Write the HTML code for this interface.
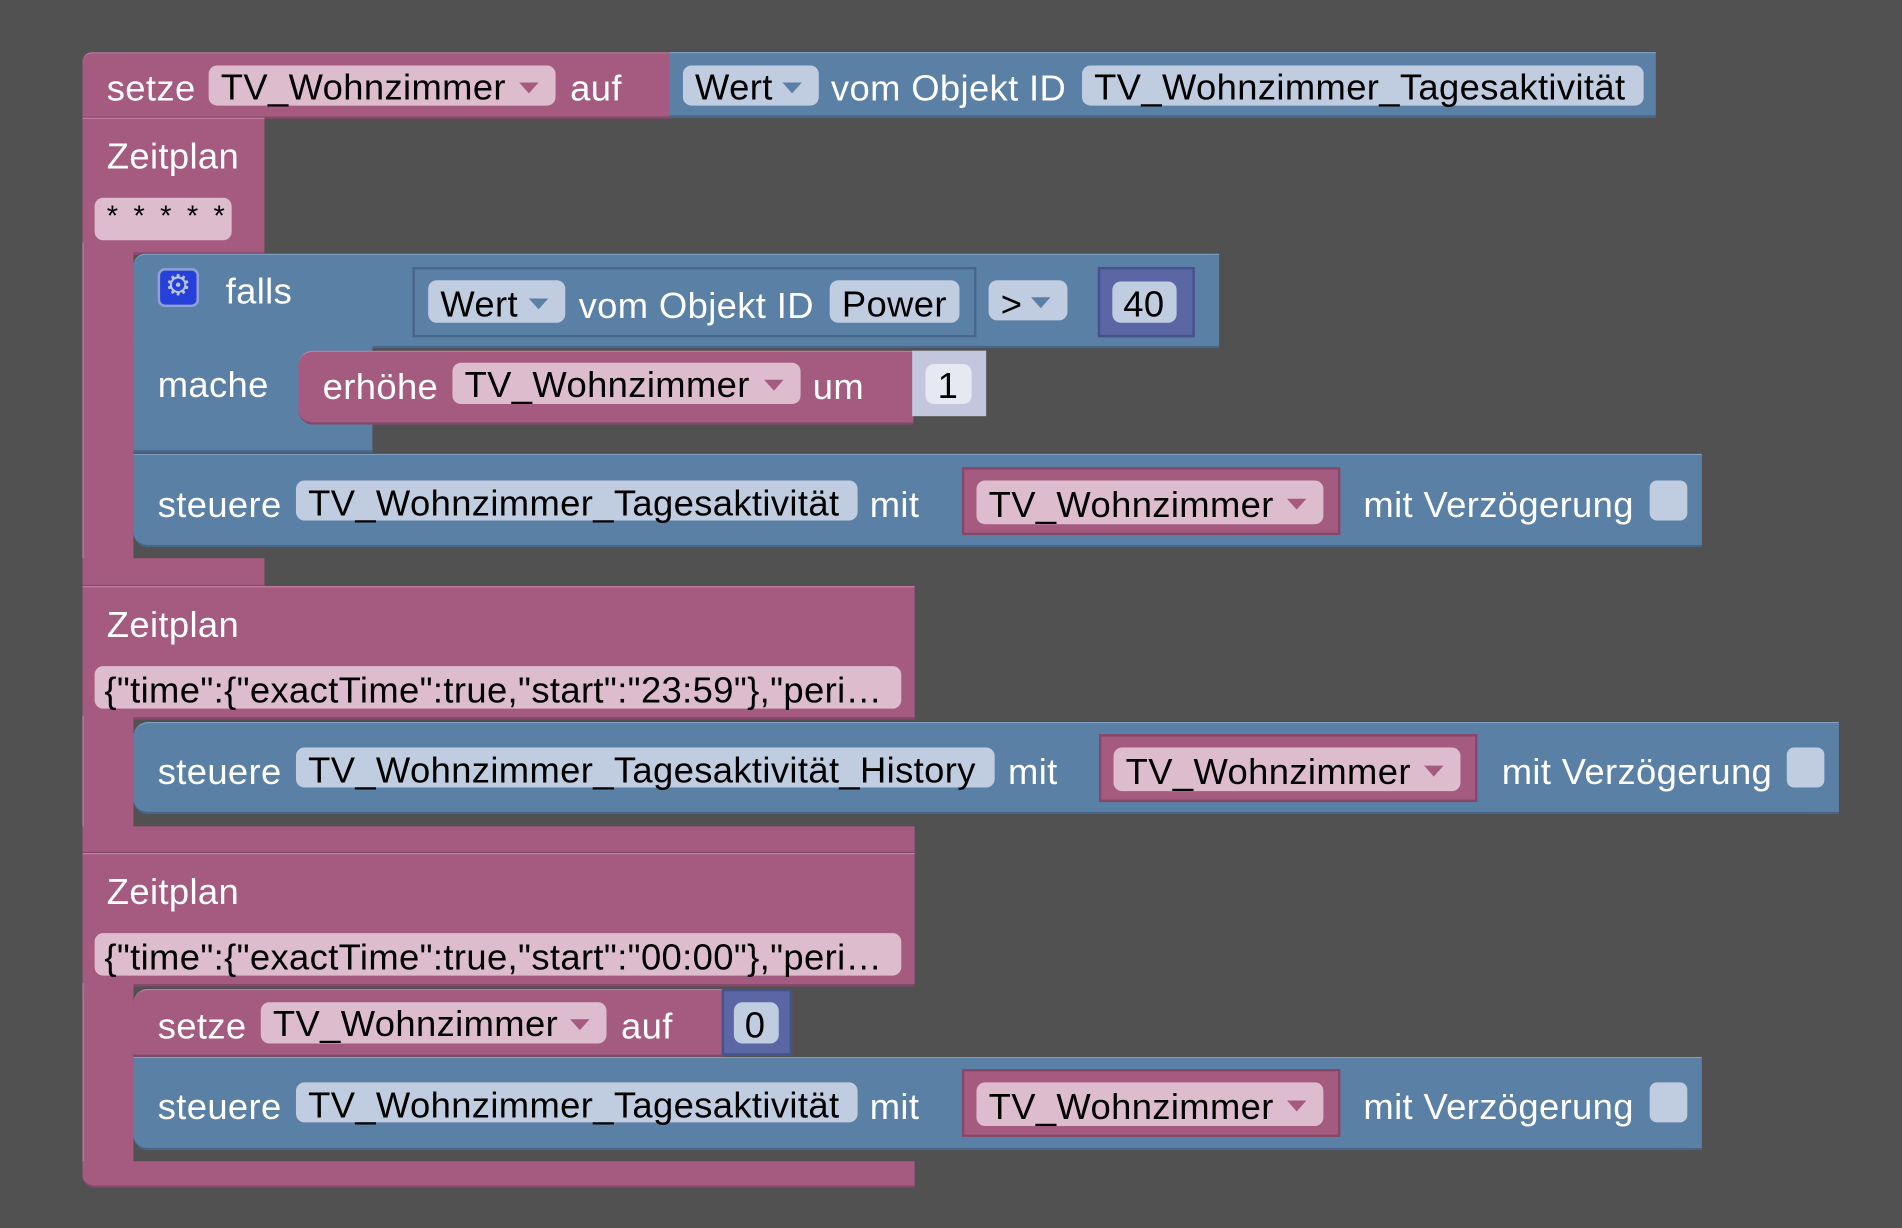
<!DOCTYPE html>
<html><head><meta charset="utf-8"><style>
html,body{margin:0;padding:0;background:#515151;width:1902px;height:1228px;overflow:hidden}
#s{position:absolute;left:0;top:0;width:1568px;height:1012px;transform:scale(1.21301,1.2134);transform-origin:0 0;font-family:"Liberation Sans",sans-serif;font-size:30px;letter-spacing:0.3px}
.b{position:absolute;box-sizing:border-box}
.p{background:#a55b80;border-top:1px solid #c27ea0;border-bottom:2px solid #84496a}
.u{background:#5b80a5;border-top:1px solid #7ea0c2;border-bottom:2px solid #48668a}
.v{background:#5b67a5;border:2px solid #48528a}
.w{position:absolute;color:#fff;white-space:nowrap;padding-top:3px}
.f{position:absolute;box-sizing:border-box;border-radius:7px;color:#000;white-space:nowrap;padding-left:10px;padding-top:2px}
.fp{background:#dcbccd}
.fb{background:#c0cce0}
.f i{position:absolute;right:14px;top:50%;margin-top:-3px;width:0;height:0;border-left:8px solid transparent;border-right:8px solid transparent;border-top:9px solid #a55b80}
.fb i{border-top-color:#5b80a5}
.ck{position:absolute;background:#c0cce0;border-radius:6px;width:31px;height:33px}
</style></head><body><div id="s">

<div class="b p" style="left:68px;top:43px;width:486px;height:55px;border-radius:8px 0 0 0"></div>
<div class="w" style="left:88px;top:54px;line-height:33px">setze</div>
<div class="f fp" style="left:172px;top:54px;width:286px;height:33px;line-height:33px">TV_Wohnzimmer<i></i></div>
<div class="w" style="left:470px;top:54px;line-height:33px">auf</div>
<div class="b u" style="left:552px;top:43px;width:813px;height:54px"></div>
<div class="f fb" style="left:563px;top:54px;width:112px;height:33px;line-height:33px">Wert<i></i></div>
<div class="w" style="left:685px;top:54px;line-height:33px">vom Objekt ID</div>
<div class="f fb" style="left:892px;top:54px;width:463px;height:33px;line-height:33px">TV_Wohnzimmer_Tagesaktivität</div>

<div class="b p" style="left:68px;top:97px;width:150px;height:113px"></div>
<div class="b p" style="left:68px;top:200px;width:42px;height:283px;border-top:none;border-left:1px solid #c27ea0"></div>
<div class="b p" style="left:68px;top:460px;width:150px;height:24px;border-top:none"></div>
<div class="w" style="left:88px;top:110px;line-height:33px">Zeitplan</div>
<div class="f fp" style="left:78px;top:163px;width:113px;height:35px;line-height:28px;font-size:24px;letter-spacing:3px">* * * * *</div>

<div class="b u" style="left:110px;top:209px;width:895px;height:78px;border-radius:10px 0 0 0"></div>
<div class="b u" style="left:110px;top:280px;width:197px;height:93px;border-top:none"></div>
<div class="b" style="left:130px;top:221px;width:34px;height:32px;background:#2740d9;border:2px solid #8ea2d6;border-radius:6px;color:#b8c6e6;font-size:24px;line-height:26px;text-align:center">⚙</div>
<div class="w" style="left:186px;top:221px;line-height:33px">falls</div>
<div class="b u" style="left:340px;top:220px;width:465px;height:58px;border:2px solid #48668a"></div>
<div class="f fb" style="left:353px;top:231px;width:113px;height:35px;line-height:37px">Wert<i></i></div>
<div class="w" style="left:477px;top:232px;line-height:35px">vom Objekt ID</div>
<div class="f fb" style="left:684px;top:231px;width:107px;height:35px;line-height:37px">Power</div>
<div class="f fb" style="left:815px;top:231px;width:65px;height:33px;line-height:37px">&gt;<i></i></div>
<div class="b v" style="left:905px;top:220px;width:80px;height:58px"></div>
<div class="f fb" style="left:917px;top:232px;width:53px;height:34px;line-height:36px;padding-left:9px">40</div>
<div class="w" style="left:130px;top:298px;line-height:33px">mache</div>
<div class="b p" style="left:246px;top:289px;width:507px;height:61px;border-radius:12px 0 0 12px"></div>
<div class="w" style="left:266px;top:300px;line-height:33px">erhöhe</div>
<div class="f fp" style="left:373px;top:299px;width:287px;height:34px;line-height:34px">TV_Wohnzimmer<i></i></div>
<div class="w" style="left:670px;top:300px;line-height:33px">um</div>
<div class="b" style="left:752px;top:289px;width:61px;height:54px;background:#c3c7de"></div>
<div class="f" style="left:763px;top:300px;width:38px;height:33px;line-height:33px;background:#e6e8f2">1</div>

<div class="b u" style="left:110px;top:374px;width:1293px;height:77px;border-radius:0 0 0 12px"></div>
<div class="w" style="left:130px;top:396px;line-height:35px">steuere</div>
<div class="f fb" style="left:244px;top:396px;width:463px;height:33px;line-height:35px">TV_Wohnzimmer_Tagesaktivität</div>
<div class="w" style="left:717px;top:396px;line-height:35px">mit</div>
<div class="b p" style="left:793px;top:385px;width:312px;height:56px;border:2px solid #84496a"></div>
<div class="f fp" style="left:805px;top:396px;width:286px;height:36px;line-height:38px">TV_Wohnzimmer<i></i></div>
<div class="w" style="left:1124px;top:396px;line-height:35px">mit Verzögerung</div>
<div class="ck" style="left:1360px;top:396px"></div>

<div class="b p" style="left:68px;top:483px;width:686px;height:110px"></div>
<div class="b p" style="left:68px;top:590px;width:42px;height:113px;border-top:none;border-left:1px solid #c27ea0"></div>
<div class="b p" style="left:68px;top:681px;width:686px;height:23px;border-top:none"></div>
<div class="w" style="left:88px;top:496px;line-height:33px">Zeitplan</div>
<div class="f fp" style="left:78px;top:549px;width:665px;height:35px;line-height:37px;padding-left:8px">{"time":{"exactTime":true,"start":"23:59"},"peri…</div>
<div class="b u" style="left:110px;top:595px;width:1406px;height:76px;border-radius:12px 0 0 12px"></div>
<div class="w" style="left:130px;top:616px;line-height:35px">steuere</div>
<div class="f fb" style="left:244px;top:616px;width:576px;height:33px;line-height:35px">TV_Wohnzimmer_Tagesaktivität_History</div>
<div class="w" style="left:831px;top:616px;line-height:35px">mit</div>
<div class="b p" style="left:906px;top:605px;width:312px;height:56px;border:2px solid #84496a"></div>
<div class="f fp" style="left:918px;top:616px;width:286px;height:36px;line-height:38px">TV_Wohnzimmer<i></i></div>
<div class="w" style="left:1238px;top:616px;line-height:35px">mit Verzögerung</div>
<div class="ck" style="left:1473px;top:616px"></div>

<div class="b p" style="left:68px;top:703px;width:686px;height:110px"></div>
<div class="b p" style="left:68px;top:810px;width:42px;height:168px;border-top:none;border-left:1px solid #c27ea0;border-radius:0 0 0 10px"></div>
<div class="b p" style="left:68px;top:957px;width:686px;height:22px;border-top:none;border-radius:0 0 0 10px"></div>
<div class="w" style="left:88px;top:716px;line-height:33px">Zeitplan</div>
<div class="f fp" style="left:78px;top:769px;width:665px;height:35px;line-height:37px;padding-left:8px">{"time":{"exactTime":true,"start":"00:00"},"peri…</div>
<div class="b p" style="left:110px;top:815px;width:486px;height:56px;border-radius:12px 0 0 0"></div>
<div class="w" style="left:130px;top:827px;line-height:33px">setze</div>
<div class="f fp" style="left:215px;top:826px;width:285px;height:34px;line-height:34px">TV_Wohnzimmer<i></i></div>
<div class="w" style="left:512px;top:827px;line-height:33px">auf</div>
<div class="b v" style="left:595px;top:815px;width:58px;height:55px"></div>
<div class="f fb" style="left:605px;top:826px;width:37px;height:34px;line-height:36px;padding-left:9px">0</div>
<div class="b u" style="left:110px;top:871px;width:1293px;height:77px;border-radius:0 0 0 12px"></div>
<div class="w" style="left:130px;top:892px;line-height:35px">steuere</div>
<div class="f fb" style="left:244px;top:892px;width:463px;height:33px;line-height:35px">TV_Wohnzimmer_Tagesaktivität</div>
<div class="w" style="left:717px;top:892px;line-height:35px">mit</div>
<div class="b p" style="left:793px;top:881px;width:312px;height:56px;border:2px solid #84496a"></div>
<div class="f fp" style="left:805px;top:892px;width:286px;height:36px;line-height:38px">TV_Wohnzimmer<i></i></div>
<div class="w" style="left:1124px;top:892px;line-height:35px">mit Verzögerung</div>
<div class="ck" style="left:1360px;top:892px"></div>

</div></body></html>
